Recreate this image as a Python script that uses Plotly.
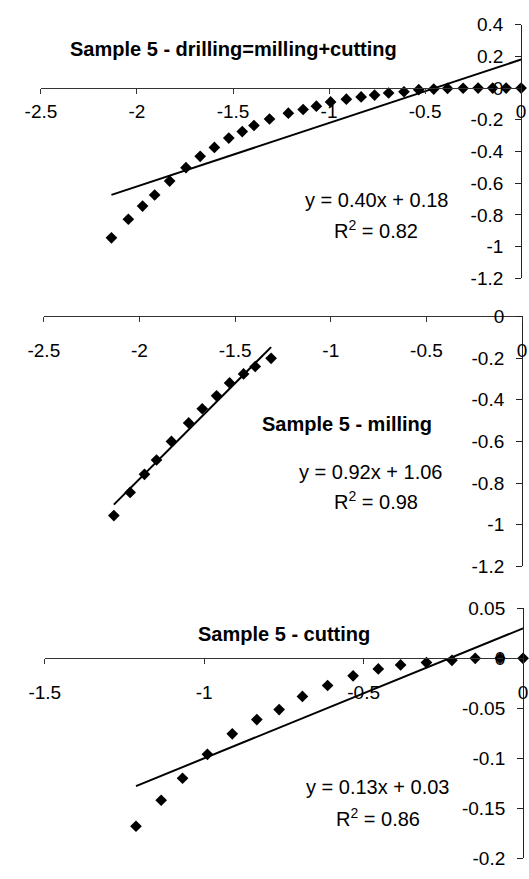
import numpy as np
import plotly.graph_objects as go

# ---------------- data ----------------
drill_x = [-2.133, -2.045, -1.971, -1.908, -1.830, -1.745, -1.671, -1.597, -1.522, -1.452,
           -1.391, -1.310, -1.212, -1.135, -1.066, -0.992, -0.910, -0.833, -0.763, -0.690,
           -0.610, -0.533, -0.455, -0.383, -0.302, -0.224, -0.148, -0.078, 0.0]
drill_y = [-0.944, -0.827, -0.744, -0.674, -0.586, -0.502, -0.430, -0.374, -0.315, -0.274,
           -0.236, -0.195, -0.158, -0.135, -0.114, -0.087, -0.070, -0.056, -0.044, -0.031,
           -0.023, -0.010, -0.006, -0.002, -0.001, 0.0, 0.0, 0.0, 0.0]
drill_fit = (0.40, 0.18)

mill_x = [-2.134, -2.049, -1.974, -1.911, -1.833, -1.743, -1.672, -1.597, -1.529, -1.456,
          -1.395, -1.312]
mill_y = [-0.956, -0.845, -0.758, -0.689, -0.600, -0.511, -0.443, -0.381, -0.319, -0.276,
          -0.240, -0.201]
mill_fit = (0.92, 1.06)

cut_x = [-1.214, -1.135, -1.068, -0.990, -0.912, -0.835, -0.765, -0.692, -0.613, -0.533,
         -0.454, -0.384, -0.303, -0.223, -0.150, -0.072, 0.0]
cut_y = [-0.168, -0.142, -0.120, -0.096, -0.0755, -0.0613, -0.0513, -0.0381, -0.0272, -0.0175,
         -0.0106, -0.0066, -0.0043, -0.0020, 0.0, 0.0, 0.0]
cut_fit = (0.13, 0.03)

titles = ["Sample 5 - drilling=milling+cutting", "Sample 5 - milling", "Sample 5 - cutting"]
eqs = ["y = 0.40x + 0.18", "y = 0.92x + 1.06", "y = 0.13x + 0.03"]
r2s = ["R<sup>2</sup> = 0.82", "R<sup>2</sup> = 0.98", "R<sup>2</sup> = 0.86"]

x_ticks_a = [-2.5, -2, -1.5, -1, -0.5, 0]
x_text_a = ["-2.5", "-2", "-1.5", "-1", "-0.5", "0"]
x_ticks_c = [-1.5, -1, -0.5, 0]
x_text_c = ["-1.5", "-1", "-0.5", "0"]
y_ticks_1 = [0.4, 0.2, 0, -0.2, -0.4, -0.6, -0.8, -1, -1.2]
y_text_1 = ["0.4", "0.2", "0", "-0.2", "-0.4", "-0.6", "-0.8", "-1", "-1.2"]
y_ticks_2 = [0, -0.2, -0.4, -0.6, -0.8, -1, -1.2]
y_text_2 = ["0", "-0.2", "-0.4", "-0.6", "-0.8", "-1", "-1.2"]
y_ticks_3 = [0.05, 0, -0.05, -0.1, -0.15, -0.2]
y_text_3 = ["0.05", "0", "-0.05", "-0.1", "-0.15", "-0.2"]

# ---------------- layout helpers ----------------
W, H = 529, 879
FONT = "Liberation Sans, Arial, sans-serif"


def fx(px):
    return px / W


def fy(py):
    return 1 - py / H


fig = go.Figure()

panels = [
    dict(x=drill_x, y=drill_y, fit=drill_fit, xa="x", ya="y"),
    dict(x=mill_x, y=mill_y, fit=mill_fit, xa="x2", ya="y2"),
    dict(x=cut_x, y=cut_y, fit=cut_fit, xa="x3", ya="y3"),
]
for p in panels:
    fig.add_trace(go.Scatter(x=p["x"], y=p["y"], mode="markers",
                             marker=dict(symbol="diamond", size=9, color="black"),
                             xaxis=p["xa"], yaxis=p["ya"], cliponaxis=False,
                             showlegend=False))
    xs = np.array([min(p["x"]), max(p["x"])])
    ys = p["fit"][0] * xs + p["fit"][1]
    fig.add_trace(go.Scatter(x=xs, y=ys, mode="lines",
                             line=dict(color="black", width=2),
                             xaxis=p["xa"], yaxis=p["ya"], cliponaxis=False,
                             showlegend=False))

tickfont = dict(family=FONT, size=19, color="black")


def xax(dom, rng, pos, tv, tt, standoff):
    return dict(domain=dom, range=rng, anchor="free", position=pos, side="bottom",
                showline=True, linecolor="#333", linewidth=1, ticks="outside",
                ticklen=5, tickcolor="#333", tickvals=tv, ticktext=tt,
                tickfont=tickfont, showgrid=False, zeroline=False,
                ticklabeloverflow="allow", ticklabelstandoff=standoff)


def yax(dom, rng, pos, tv, tt):
    return dict(domain=dom, range=rng, anchor="free", position=pos,
                side="left", showline=True, linecolor="#222", linewidth=1,
                ticks="outside", ticklen=6, tickcolor="#222", tickvals=tv,
                ticktext=tt, tickfont=tickfont, showgrid=False, zeroline=False,
                ticklabelstandoff=8, ticklabeloverflow="allow")


fig.update_layout(
    width=W, height=H, margin=dict(l=0, r=0, t=0, b=0),
    paper_bgcolor="white", plot_bgcolor="white", showlegend=False,
    font=dict(family=FONT, color="black"),
    xaxis=xax([fx(26), fx(526)], [-2.5, 0], fy(80), x_ticks_a, x_text_a, 1),
    yaxis=yax([fy(275), fy(15)], [-1.2, 0.4], fx(526), y_ticks_1, y_text_1),
    xaxis2=xax([fx(29), fx(527)], [-2.5, 0], fy(314), x_ticks_a, x_text_a, 12),
    yaxis2=yax([fy(570), fy(314)], [-1.2, 0], fx(527), y_ticks_2, y_text_2),
    xaxis3=xax([fx(30), fx(528)], [-1.5, 0], fy(664), x_ticks_c, x_text_c, 12),
    yaxis3=yax([fy(869), fy(613)], [-0.2, 0.05], fx(528), y_ticks_3, y_text_3),
)

title_pos = [(227, 40), (345, 424), (279, 639)]
eq_pos = [(375, 195), (369, 473), (376, 796)]
r2_pos = [(375, 225), (375, 503), (377, 827)]
for i in range(3):
    fig.add_annotation(text="<b>%s</b>" % titles[i], x=fx(title_pos[i][0]), y=fy(title_pos[i][1]),
                       xref="paper", yref="paper", showarrow=False,
                       font=dict(family=FONT, size=20, color="black"),
                       xanchor="center", yanchor="middle")
    fig.add_annotation(text=eqs[i], x=fx(eq_pos[i][0]), y=fy(eq_pos[i][1]),
                       xref="paper", yref="paper", showarrow=False,
                       font=dict(family=FONT, size=20, color="black"),
                       xanchor="center", yanchor="middle")
    fig.add_annotation(text=r2s[i], x=fx(r2_pos[i][0]), y=fy(r2_pos[i][1]),
                       xref="paper", yref="paper", showarrow=False,
                       font=dict(family=FONT, size=20, color="black"),
                       xanchor="center", yanchor="middle")

fig.write_html("out.html")
